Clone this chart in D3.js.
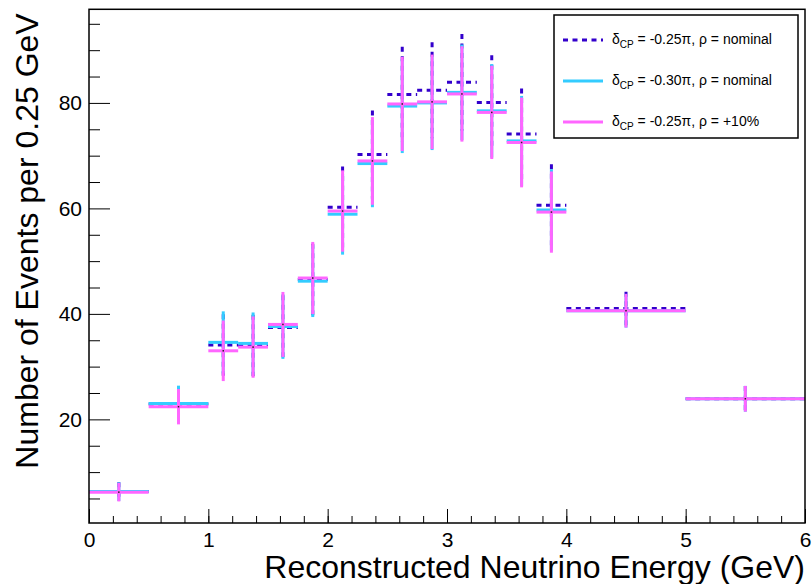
<!DOCTYPE html>
<html>
<head>
<meta charset="utf-8">
<script src="https://cdn.jsdelivr.net/npm/d3@7"></script>
<style>
  body { margin: 0; background: #fff; }
  text { font-family: "Liberation Sans", Arial, Helvetica, sans-serif; fill: #000; }
  .tick text { font-size: 21px; }
</style>
</head>
<body>
<div id="vis"></div>
<script>
const FRAME_WIDTH = 812;
const FRAME_HEIGHT = 584;
const MARGINS = {left: 89, right: 7, top: 9.3, bottom: 61};

// bin edges (GeV)
const BIN_LO = [0, 0.5, 1.0, 1.25, 1.5, 1.75, 2.0, 2.25, 2.5, 2.75, 3.0, 3.25, 3.5, 3.75, 4.0, 5.0];
const BIN_HI = [0.5, 1.0, 1.25, 1.5, 1.75, 2.0, 2.25, 2.5, 2.75, 3.0, 3.25, 3.5, 3.75, 4.0, 5.0, 6.0];

// events per 0.25 GeV
const NOMINAL_025 = [6.3, 22.9, 34.1, 34.0, 37.4, 46.5, 60.2, 70.2, 81.6, 82.4, 83.9, 80.1, 74.1, 60.6, 41.0, 23.9];
const NOMINAL_025_ERR = [1.77, 3.38, 5.84, 5.83, 6.12, 6.82, 7.76, 8.38, 9.03, 9.08, 9.16, 8.95, 8.61, 7.78, 3.20, 2.44];

const NOMINAL_030 = [6.3, 23.0, 34.6, 34.4, 37.6, 46.2, 58.9, 68.5, 79.4, 80.0, 82.0, 78.5, 72.8, 59.7, 40.6, 23.9];
const NOMINAL_030_ERR = [1.77, 3.39, 5.88, 5.87, 6.13, 6.80, 7.67, 8.28, 8.91, 8.94, 9.06, 8.86, 8.53, 7.73, 3.19, 2.44];

const RHO_PLUS10 = [6.2, 22.4, 33.0, 33.7, 38.0, 46.8, 59.5, 69.0, 79.8, 80.2, 81.7, 78.2, 72.5, 59.3, 40.6, 23.9];
const RHO_PLUS10_ERR = [1.76, 3.35, 5.74, 5.81, 6.16, 6.84, 7.71, 8.31, 8.93, 8.96, 9.04, 8.84, 8.51, 7.70, 3.19, 2.44];

const X_TICKS = [0, 1, 2, 3, 4, 5, 6];
const Y_TICKS = [20, 40, 60, 80];

const SERIES = [
  {cp: "-0.25", rho: "nominal", values: NOMINAL_025, errs: NOMINAL_025_ERR, color: "#3300cc", dash: "5,4.5"},
  {cp: "-0.30", rho: "nominal", values: NOMINAL_030, errs: NOMINAL_030_ERR, color: "#33ccff", dash: null},
  {cp: "-0.25", rho: "+10%", values: RHO_PLUS10, errs: RHO_PLUS10_ERR, color: "#ff66ff", dash: null}
];

const SVG = d3.select("#vis")
  .append("svg")
  .attr("width", FRAME_WIDTH)
  .attr("height", FRAME_HEIGHT)
  .style("background", "#fff");

const X_SCALE = d3.scaleLinear()
  .domain([0, 6])
  .range([MARGINS.left, FRAME_WIDTH - MARGINS.right]);

const Y_SCALE = d3.scaleLinear()
  .domain([0.35, 97.75])
  .range([FRAME_HEIGHT - MARGINS.bottom, MARGINS.top]);

const BOTTOM = FRAME_HEIGHT - MARGINS.bottom;

// histograms with error bars
SERIES.forEach((s) => {
  const g = SVG.append("g")
    .attr("stroke", s.color)
    .attr("stroke-width", 3)
    .attr("fill", "none");
  if (s.dash) g.attr("stroke-dasharray", s.dash);

  s.values.forEach((v, i) => {
    const xc = X_SCALE((BIN_LO[i] + BIN_HI[i]) / 2);
    g.append("line")
      .attr("x1", X_SCALE(BIN_LO[i]))
      .attr("x2", X_SCALE(BIN_HI[i]))
      .attr("y1", Y_SCALE(v))
      .attr("y2", Y_SCALE(v));
    g.append("line")
      .attr("x1", xc)
      .attr("x2", xc)
      .attr("y1", Y_SCALE(v + s.errs[i]))
      .attr("y2", Y_SCALE(v - s.errs[i]));
  });

  // marker dots
  SVG.append("g").selectAll("rect")
    .data(s.values)
    .enter()
    .append("rect")
      .attr("x", (d, i) => X_SCALE((BIN_LO[i] + BIN_HI[i]) / 2) - 0.75)
      .attr("y", (d) => Y_SCALE(d) - 0.75)
      .attr("width", 1.5)
      .attr("height", 1.5)
      .attr("fill", "#222");
});

// x axis
const xMajor = SVG.append("g")
  .attr("transform", "translate(0," + BOTTOM + ")")
  .call(d3.axisBottom(X_SCALE).tickValues(X_TICKS).tickSize(-14).tickSizeOuter(0).tickPadding(9).tickFormat(d3.format("d")));
xMajor.select(".domain").remove();
xMajor.selectAll("line").attr("stroke", "#000");

const xMinor = SVG.append("g")
  .attr("transform", "translate(0," + BOTTOM + ")")
  .call(d3.axisBottom(X_SCALE).tickValues(d3.range(0.2, 6, 0.2)).tickSize(-7).tickSizeOuter(0).tickFormat(""));
xMinor.select(".domain").remove();
xMinor.selectAll("line").attr("stroke", "#000");

// y axis
const yMajor = SVG.append("g")
  .attr("transform", "translate(" + MARGINS.left + ",0)")
  .call(d3.axisLeft(Y_SCALE).tickValues(Y_TICKS).tickSize(-21).tickSizeOuter(0).tickPadding(7));
yMajor.select(".domain").remove();
yMajor.selectAll("line").attr("stroke", "#000");

const yMinor = SVG.append("g")
  .attr("transform", "translate(" + MARGINS.left + ",0)")
  .call(d3.axisLeft(Y_SCALE).tickValues(d3.range(5, 96, 5).filter((d) => d % 20 !== 0)).tickSize(-11).tickSizeOuter(0).tickFormat(""));
yMinor.select(".domain").remove();
yMinor.selectAll("line").attr("stroke", "#000");

// frame
SVG.append("rect")
  .attr("x", X_SCALE(0))
  .attr("y", MARGINS.top)
  .attr("width", X_SCALE(6) - X_SCALE(0))
  .attr("height", BOTTOM - MARGINS.top)
  .attr("fill", "none")
  .attr("stroke", "#000")
  .attr("stroke-width", 1.5);

// axis titles
SVG.append("text")
  .attr("x", X_SCALE(6))
  .attr("y", 578)
  .attr("text-anchor", "end")
  .attr("font-size", 32)
  .text("Reconstructed Neutrino Energy (GeV)");

SVG.append("text")
  .attr("transform", "translate(38,241) rotate(-90)")
  .attr("text-anchor", "middle")
  .attr("font-size", 32)
  .text("Number of Events per 0.25 GeV");

// legend
const LEG = SVG.append("g");
LEG.append("rect")
  .attr("x", 554)
  .attr("y", 15)
  .attr("width", 244)
  .attr("height", 123)
  .attr("fill", "#fff")
  .attr("stroke", "#000")
  .attr("stroke-width", 1.5);

SERIES.forEach((s, i) => {
  const ly = 40 + i * 41;
  LEG.append("line")
    .attr("x1", 563)
    .attr("x2", 603)
    .attr("y1", ly)
    .attr("y2", ly)
    .attr("stroke", s.color)
    .attr("stroke-width", 3)
    .attr("stroke-dasharray", s.dash);
  const t = LEG.append("text")
    .attr("x", 612)
    .attr("y", ly + 4)
    .attr("font-size", 14);
  t.append("tspan").text("δ");
  t.append("tspan").attr("font-size", 10).attr("dy", 4).text("CP");
  t.append("tspan").attr("dy", -4).text(" = " + s.cp + "π, ρ = " + s.rho);
});
</script>
</body>
</html>
